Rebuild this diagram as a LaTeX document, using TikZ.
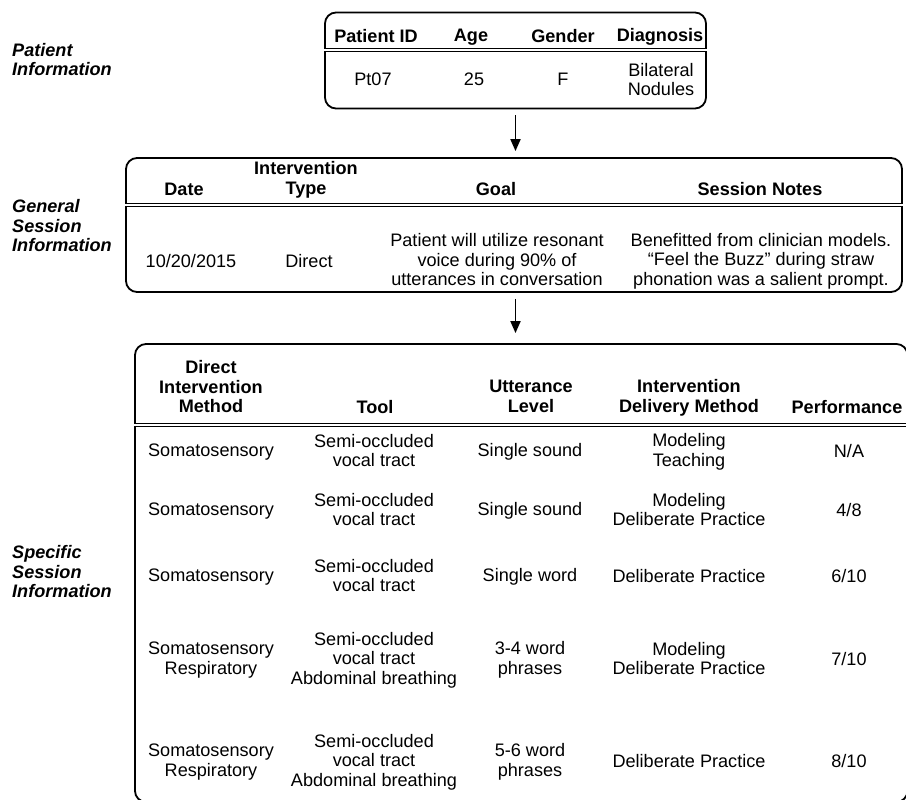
\documentclass[tikz,border=0pt]{standalone}
\usepackage{fontspec}
\setmainfont{Liberation Sans}
\usetikzlibrary{arrows.meta,positioning}

\newcommand{\cellstrut}{\rule[-3pt]{0pt}{16pt}}

\begin{document}
\begin{tikzpicture}[x=1pt,y=-1pt,
  font=\fontsize{18.1}{19.6}\selectfont,
  panel/.style={draw, line width=1.8pt, rounded corners=11pt, inner sep=0pt},
  cell/.style={align=center, inner sep=0pt,
    execute at begin node=\cellstrut, execute at end node=\cellstrut},
  head/.style={cell, font=\fontsize{18.1}{19.6}\selectfont\bfseries},
  side/.style={cell, align=left, anchor=west, font=\fontsize{18.1}{19.6}\selectfont\bfseries\itshape},
  rule/.style={double, double distance=2.2pt, line width=0.8pt},
  arr/.style={line width=1.8pt, -{Triangle[width=10pt,length=12pt]}}]
\useasboundingbox (0,0) rectangle (906,800);

\node[side] (plabel) at (12,61) {Patient\\Information};
\node[side] (glabel) at (12,227) {General\\Session\\Information};
\node[side] (slabel) at (12,573) {Specific\\Session\\Information};

\node[panel, minimum width=381pt, minimum height=96pt] (patient) at (515.5,60.5) {};
\node[panel, minimum width=776pt, minimum height=134pt] (general) at (514,225) {};
\node[panel, minimum width=772.5pt, minimum height=458pt] (specific) at (521.25,573) {};

\draw[rule] (patient.west |- 0,50) -- (patient.east |- 0,50);
\draw[rule] (general.west |- 0,205) -- (general.east |- 0,205);
\draw[rule] (specific.west |- 0,425) -- (specific.east |- 0,425);

\coordinate (ptail) at ([yshift=-6pt]patient.south);
\coordinate (phead) at ([yshift=6pt]general.north -| ptail);
\coordinate (gtail) at ([yshift=-6pt]general.south -| ptail);
\coordinate (ghead) at ([yshift=10pt]specific.north -| ptail);
\draw[arr] (ptail) -- (phead);
\draw[arr] (gtail) -- (ghead);

\node[head] (pid) at (376,37) {Patient ID};
\node[head] (age) at (471,37) {Age};
\node[head] (gender) at (563,37) {Gender};
\node[head] (diag) at (660,37) {Diagnosis};
\node[cell] (pidv) at (373,81) {Pt07};
\node[cell] (agev) at (474,81) {25};
\node[cell] (genderv) at (563,81) {F};
\node[cell] (diagv) at (661,81) {Bilateral\\Nodules};

\node[head] (date) at (184,190) {Date};
\node[head] (itype) at (306,180) {Intervention\\Type};
\node[head] (goal) at (496,190) {Goal};
\node[head] (notes) at (760,190) {Session Notes};
\node[cell] (datev) at (191,262) {10/20/2015};
\node[cell] (itypev) at (309,262) {Direct};
\node[cell] (goalv) at (497,261) {Patient will utilize resonant\\voice during 90\% of\\utterances in conversation};
\node[cell] (notesv) at (761,261) {Benefitted from clinician models.\\``Feel the Buzz'' during straw\\phonation was a salient prompt.};

\node[head] (meth) at (211,388) {Direct\\Intervention\\Method};
\node[head] (tool) at (375,408) {Tool};
\node[head] (utt) at (531,398) {Utterance\\Level};
\node[head] (deliv) at (689,398) {Intervention\\Delivery Method};
\node[head] (perf) at (847,408) {Performance};

\node[cell] (meth1) at (211,452) {Somatosensory};
\node[cell] (tool1) at (374,452) {Semi-occluded\\vocal tract};
\node[cell] (utt1) at (530,452) {Single sound};
\node[cell] (deliv1) at (689,452) {Modeling\\Teaching};
\node[cell] (perf1) at (849,452) {N/A};

\node[cell] (meth2) at (211,511) {Somatosensory};
\node[cell] (tool2) at (374,511) {Semi-occluded\\vocal tract};
\node[cell] (utt2) at (530,511) {Single sound};
\node[cell] (deliv2) at (689,511) {Modeling\\Deliberate Practice};
\node[cell] (perf2) at (849,511) {4/8};

\node[cell] (meth3) at (211,577) {Somatosensory};
\node[cell] (tool3) at (374,577) {Semi-occluded\\vocal tract};
\node[cell] (utt3) at (530,577) {Single word};
\node[cell] (deliv3) at (689,577) {Deliberate Practice};
\node[cell] (perf3) at (849,577) {6/10};

\node[cell] (meth4) at (211,660) {Somatosensory\\Respiratory};
\node[cell] (tool4) at (374,660) {Semi-occluded\\vocal tract\\Abdominal breathing};
\node[cell] (utt4) at (530,660) {3-4 word\\phrases};
\node[cell] (deliv4) at (689,660) {Modeling\\Deliberate Practice};
\node[cell] (perf4) at (849,660) {7/10};

\node[cell] (meth5) at (211,762) {Somatosensory\\Respiratory};
\node[cell] (tool5) at (374,762) {Semi-occluded\\vocal tract\\Abdominal breathing};
\node[cell] (utt5) at (530,762) {5-6 word\\phrases};
\node[cell] (deliv5) at (689,762) {Deliberate Practice};
\node[cell] (perf5) at (849,762) {8/10};
\end{tikzpicture}
\end{document}
